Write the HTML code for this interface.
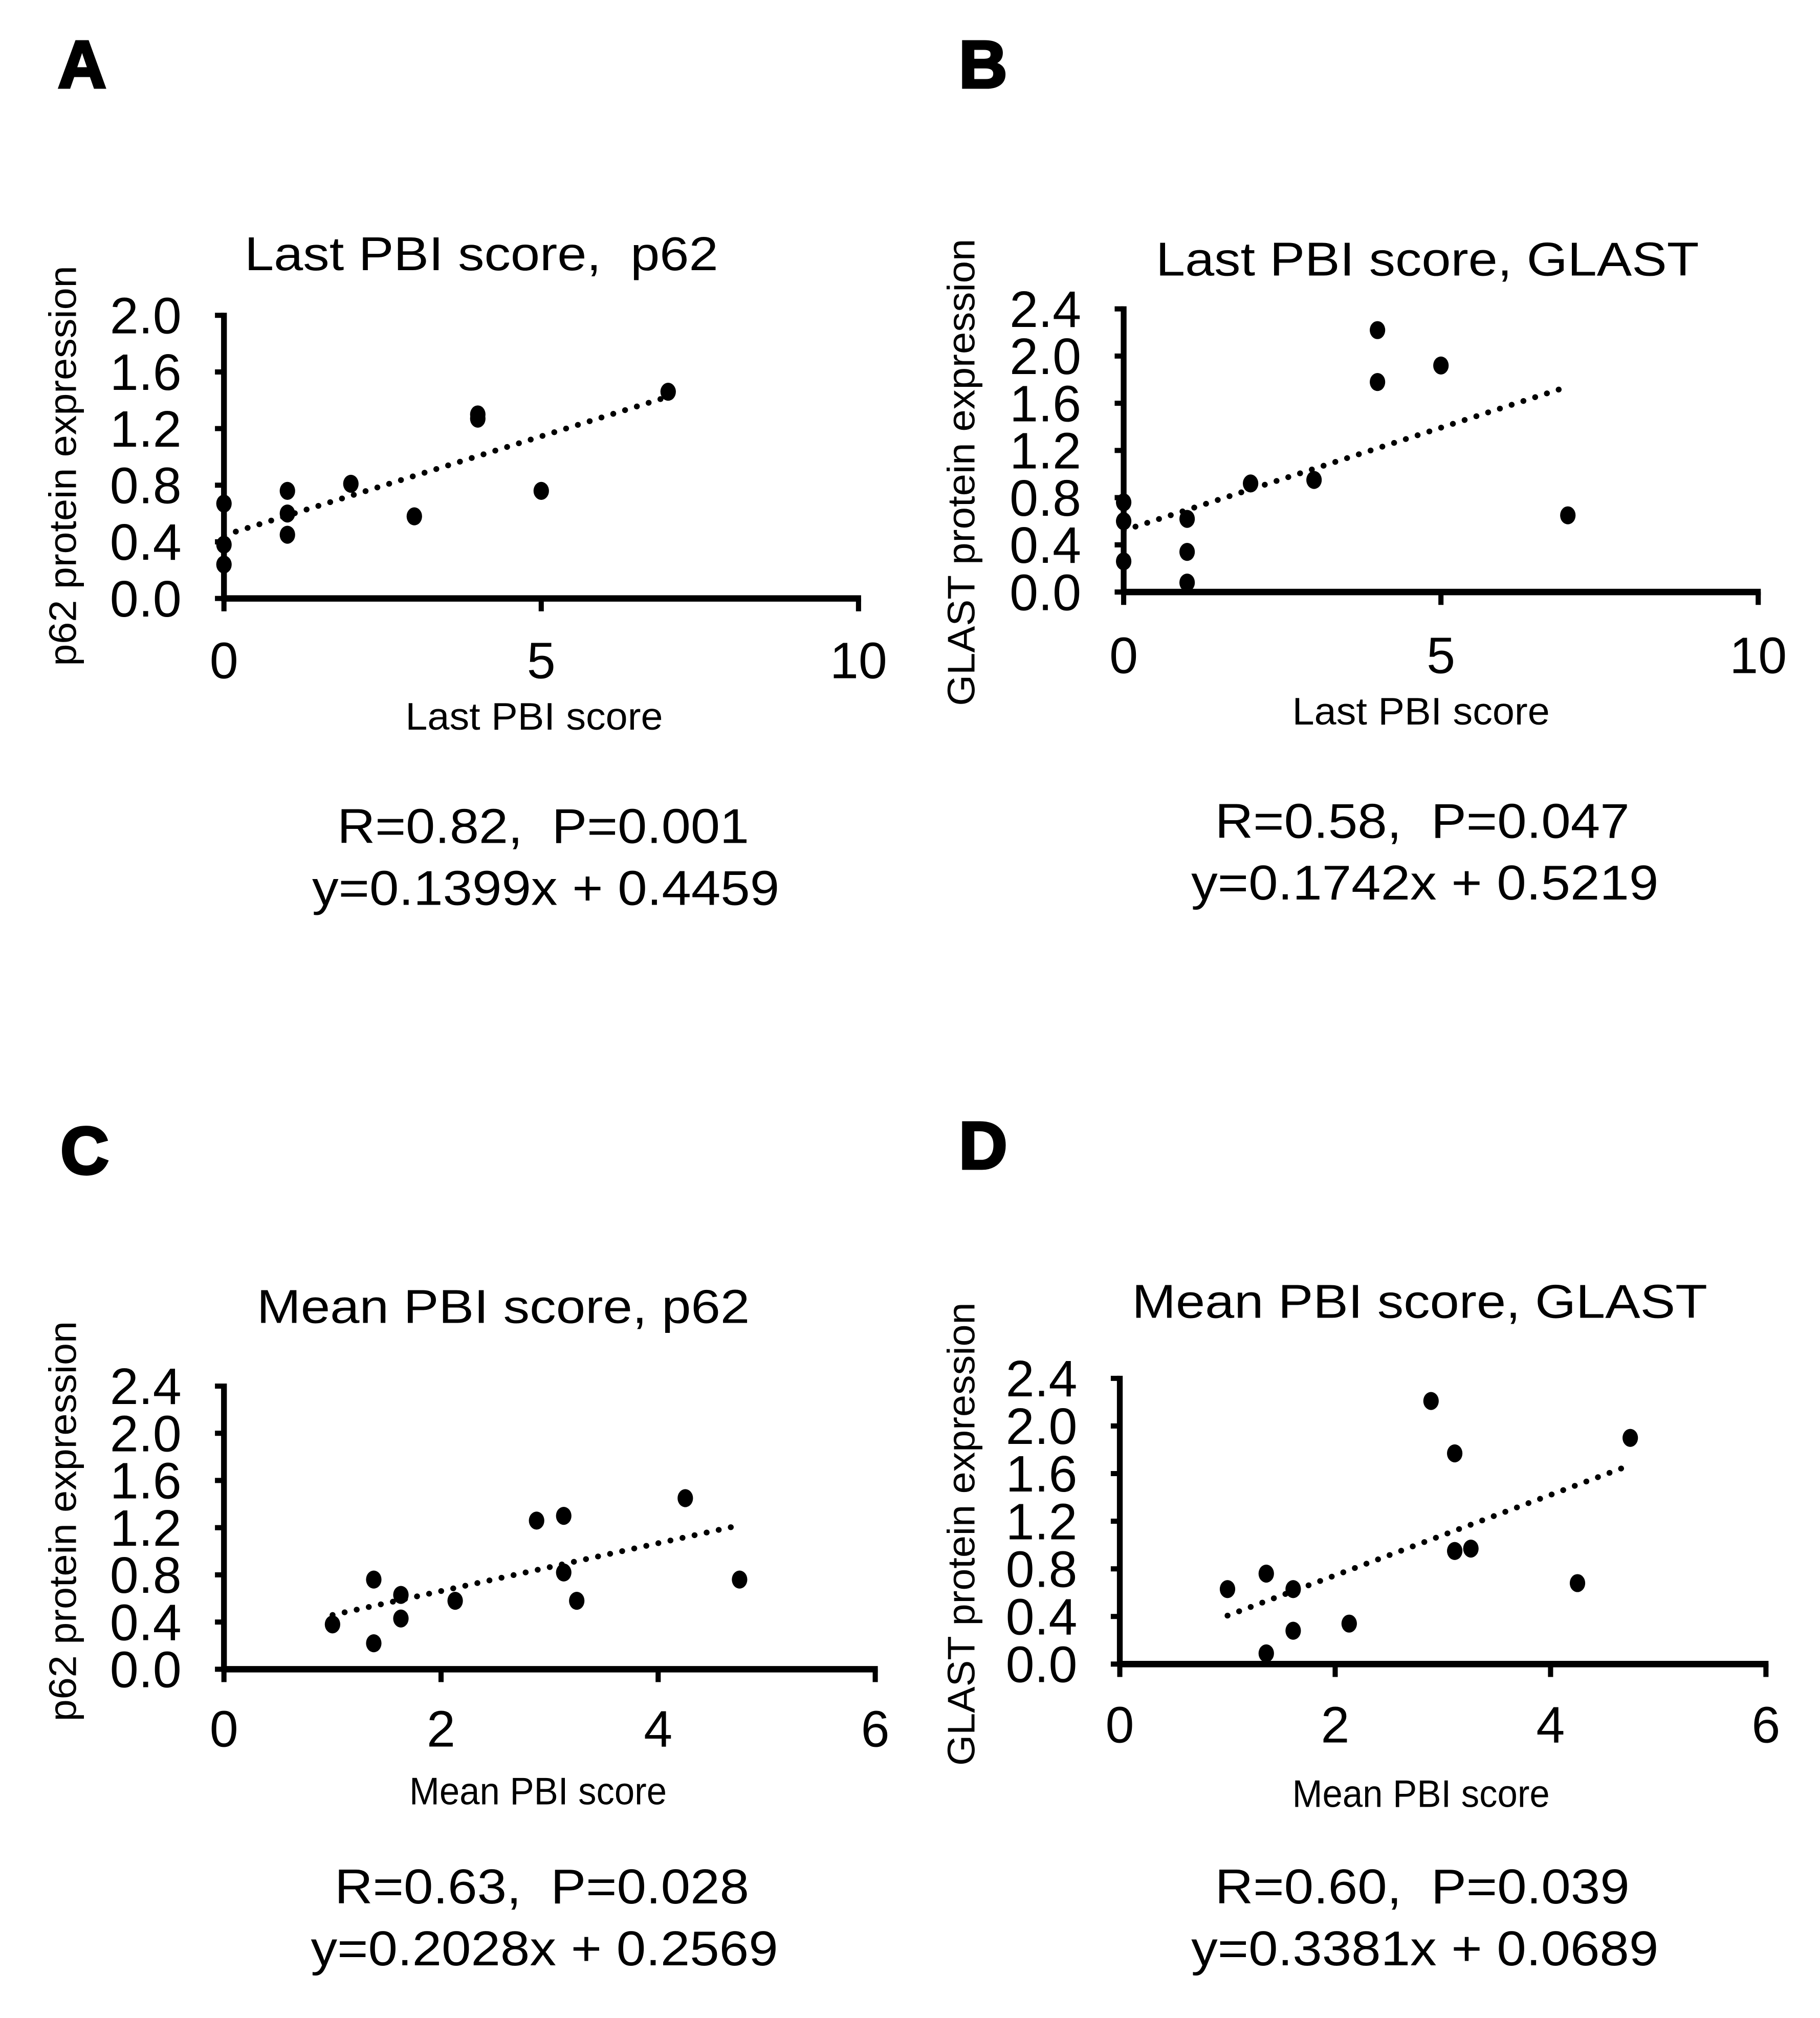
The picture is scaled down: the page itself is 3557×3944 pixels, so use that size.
<!DOCTYPE html>
<html><head><meta charset="utf-8"><style>
html,body{margin:0;padding:0;background:#fff}
svg{display:block;font-family:"Liberation Sans",Arial,sans-serif}
text{white-space:pre}
</style></head><body>
<svg id="fig" xmlns="http://www.w3.org/2000/svg" width="3557" height="3944" viewBox="0 0 1414 1568" preserveAspectRatio="none">
<rect width="1414" height="1568" fill="#fff"/>
</svg>
<script>
// Panel A data
const aX = [0,0,0,1,1,1,2,3,4,4,5,7];
const aY = [0.67,0.38,0.24,0.76,0.60,0.45,0.81,0.58,1.30,1.27,0.76,1.46];
const aXTicks = [0,5,10];
const aYTicks = [0,0.4,0.8,1.2,1.6,2.0];
const aFit = [0.1399,0.4459];
// Panel B data
const bX = [0,0,0,1,1,1,2,3,4,4,5,7];
const bY = [0.76,0.60,0.26,0.62,0.34,0.08,0.92,0.95,2.22,1.78,1.92,0.65];
const bXTicks = [0,5,10];
const bYTicks = [0,0.4,0.8,1.2,1.6,2.0,2.4];
const bFit = [0.1742,0.5219];
// Panel C data
const cX = [1.0,1.38,1.38,1.63,1.63,2.13,2.88,3.13,3.13,3.25,4.25,4.75];
const cY = [0.38,0.76,0.22,0.63,0.43,0.58,1.26,1.30,0.82,0.58,1.45,0.76];
const cXTicks = [0,2,4,6];
const cYTicks = [0,0.4,0.8,1.2,1.6,2.0,2.4];
const cFit = [0.2028,0.2569];
// Panel D data
const dX = [1.0,1.36,1.36,1.61,1.61,2.13,2.89,3.11,3.11,3.26,4.25,4.74];
const dY = [0.63,0.76,0.09,0.63,0.28,0.34,2.21,1.77,0.95,0.97,0.68,1.90];
const dXTicks = [0,2,4,6];
const dYTicks = [0,0.4,0.8,1.2,1.6,2.0,2.4];
const dFit = [0.3381,0.0689];

const NS="http://www.w3.org/2000/svg";
const svg=document.getElementById('fig');
function mk(tag,attrs,parent,text){const e=document.createElementNS(NS,tag);for(const k in attrs)e.setAttribute(k,attrs[k]);if(text!==undefined)e.textContent=text;(parent||svg).appendChild(e);return e;}

function panel(p){
  const g=mk('g',{});
  
  
  const sx=v=>p.x0+(v-p.xmin)/(p.xmax-p.xmin)*(p.x1-p.x0);
  const sy=v=>p.y0-(v-p.ymin)/(p.ymax-p.ymin)*(p.y0-p.y1);
  const L=mk('text',{x:p.lx,y:p.ly,'font-size':52,'font-weight':'bold',stroke:'#000','stroke-width':2},g,p.letter);
  
  
  const T=mk('text',{x:p.tcx,y:p.ty,'font-size':37,'text-anchor':'middle',textLength:p.tlen,lengthAdjust:'spacingAndGlyphs'},g,p.title);
  
  
  const ya=mk('line',{x1:p.x0,y1:p.y1-2,x2:p.x0,y2:p.y0+2,stroke:'#000','stroke-width':4.5},g);
  
  
  const xa=mk('line',{x1:p.x0-2,y1:p.y0,x2:p.x1+2,y2:p.y0,stroke:'#000','stroke-width':5},g);
  
  
  p.yt.forEach(v=>{
    const y=sy(v);
    const t=mk('line',{x1:p.x0-7,y1:y,x2:p.x0,y2:y,stroke:'#000','stroke-width':4},g);
    
    
    const l=mk('text',{x:p.x0-33,y:y+14,'font-size':40,'text-anchor':'end'},g,v.toFixed(1));
    
    
  });
  p.xt.forEach(v=>{
    const x=sx(v);
    const t=mk('line',{x1:x,y1:p.y0,x2:x,y2:p.y0+10,stroke:'#000','stroke-width':4},g);
    
    
    const l=mk('text',{x:x,y:p.xly,'font-size':40,'text-anchor':'middle'},g,String(v));
    
    
  });
  const xt=mk('text',{x:p.xtcx,y:p.xty,'font-size':30,'text-anchor':'middle',textLength:200,lengthAdjust:'spacingAndGlyphs'},g,p.xtitle);
  
  
  const yt=mk('text',{x:0,y:0,'font-size':30,'text-anchor':'middle',transform:`translate(${p.ytx},${p.ytcy}) rotate(-90)`,textLength:p.ytlen,lengthAdjust:'spacingAndGlyphs'},g,p.ytitle);
  
  
  const fx0=p.fitRange[0],fx1=p.fitRange[1];
  const tl=mk('line',{x1:sx(fx0),y1:sy(p.fit[0]*fx0+p.fit[1]),x2:sx(fx1),y2:sy(p.fit[0]*fx1+p.fit[1]),stroke:'#000','stroke-width':4.5,'stroke-dasharray':'0.1 9.5','stroke-linecap':'round'},g);
  
  
  p.xs.forEach((xv,i)=>{
    const c=mk('ellipse',{cx:sx(xv),cy:sy(p.ys[i]),rx:6,ry:7,fill:'#000'},g);
    
    
  });
  const r1=mk('text',{x:p.rcx,y:p.ry,'font-size':38,'text-anchor':'middle',textLength:p.rlen,lengthAdjust:'spacingAndGlyphs'},g,p.r);
  
  
  const r2=mk('text',{x:p.rcx+2,y:p.ry+48,'font-size':38,'text-anchor':'middle',textLength:363,lengthAdjust:'spacingAndGlyphs'},g,p.eq);
  
  
}

panel({id:'a',letter:'A',lx:45,ly:68,title:'Last PBI score,  p62',tcx:374,ty:210,tlen:368,
  x0:174,x1:667,y0:465,y1:245,xmin:0,xmax:10,ymin:0,ymax:2.0,xt:aXTicks,yt:aYTicks,xly:527,
  xtitle:'Last PBI score',xtcx:415,xty:567,ytitle:'p62 protein expression',ytx:59,ytcy:362,ytlen:311,
  xs:aX,ys:aY,fit:aFit,fitRange:[0,7],r:'R=0.82,  P=0.001',rcx:422,ry:655,rlen:320,eq:'y=0.1399x + 0.4459'});
panel({id:'b',letter:'B',lx:745,ly:68,title:'Last PBI score, GLAST',tcx:1109,ty:214,tlen:422,
  x0:873,x1:1366,y0:460,y1:240,xmin:0,xmax:10,ymin:0,ymax:2.4,xt:bXTicks,yt:bYTicks,xly:523,
  xtitle:'Last PBI score',xtcx:1104,xty:563,ytitle:'GLAST protein expression',ytx:757,ytcy:367,ytlen:363,
  xs:bX,ys:bY,fit:bFit,fitRange:[0,7],r:'R=0.58,  P=0.047',rcx:1105,ry:651,rlen:322,eq:'y=0.1742x + 0.5219'});
panel({id:'c',letter:'C',lx:47,ly:912,title:'Mean PBI score, p62',tcx:391,ty:1028,tlen:383,
  x0:174,x1:680,y0:1297,y1:1077,xmin:0,xmax:6,ymin:0,ymax:2.4,xt:cXTicks,yt:cYTicks,xly:1357,
  xtitle:'Mean PBI score',xtcx:418,xty:1402,ytitle:'p62 protein expression',ytx:59,ytcy:1182,ytlen:311,
  xs:cX,ys:cY,fit:cFit,fitRange:[1,4.75],r:'R=0.63,  P=0.028',rcx:421,ry:1479,rlen:322,eq:'y=0.2028x + 0.2569'});
panel({id:'d',letter:'D',lx:745,ly:908,title:'Mean PBI score, GLAST',tcx:1103,ty:1024,tlen:447,
  x0:870,x1:1372,y0:1293,y1:1071,xmin:0,xmax:6,ymin:0,ymax:2.4,xt:dXTicks,yt:dYTicks,xly:1354,
  xtitle:'Mean PBI score',xtcx:1104,xty:1404,ytitle:'GLAST protein expression',ytx:757,ytcy:1192,ytlen:360,
  xs:dX,ys:dY,fit:dFit,fitRange:[1,4.75],r:'R=0.60,  P=0.039',rcx:1105,ry:1479,rlen:322,eq:'y=0.3381x + 0.0689'});
</script>
</body></html>
